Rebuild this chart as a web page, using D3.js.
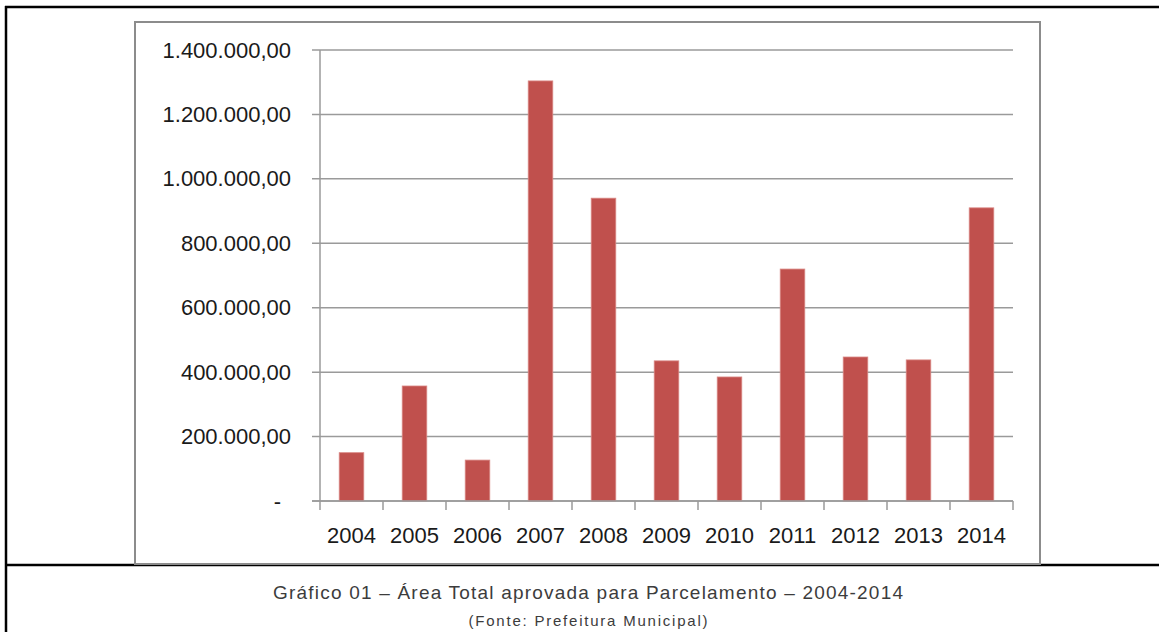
<!DOCTYPE html>
<html>
<head>
<meta charset="utf-8">
<script src="https://cdn.jsdelivr.net/npm/d3@7"></script>
<style>
  body { margin: 0; background: #fff; }
  svg { display: block; }
</style>
</head>
<body>
<script>
// data
let years = ["2004","2005","2006","2007","2008","2009","2010","2011","2012","2013","2014"];
let areas = [150000, 357000, 127000, 1304000, 940000, 435000, 385000, 720000, 447000, 438000, 910000];
let yTicks = [0, 200000, 400000, 600000, 800000, 1000000, 1200000, 1400000];
let caption = "Gráfico 01 – Área Total aprovada para Parcelamento – 2004-2014";
let source = "(Fonte: Prefeitura Municipal)";

let width = 1159, height = 632;

// pt-BR number format: 1.400.000,00
let ptBR = d3.formatLocale({ decimal: ",", thousands: ".", grouping: [3], currency: ["R$", ""] });
let fmt = ptBR.format(",.2f");

let svg = d3.select("body").append("svg")
    .attr("width", width)
    .attr("height", height);

// table lines behind the chart
svg.append("line").attr("x1", 6).attr("x2", 6).attr("y1", 6).attr("y2", height)
    .style("stroke", "#000").style("stroke-width", 2.5);
svg.append("line").attr("x1", 5).attr("x2", width).attr("y1", 7).attr("y2", 7)
    .style("stroke", "#000").style("stroke-width", 2.5);
svg.append("line").attr("x1", 5).attr("x2", width).attr("y1", 565).attr("y2", 565)
    .style("stroke", "#000").style("stroke-width", 2.5);

// chart frame
svg.append("rect")
    .attr("x", 135).attr("y", 22)
    .attr("width", 905).attr("height", 542)
    .style("fill", "#fff")
    .style("stroke", "#8c8c8c")
    .style("stroke-width", 2);

let x = d3.scaleBand()
    .domain(years)
    .range([320, 1013])
    .padding(0);

let y = d3.scaleLinear()
    .domain([0, 1400000])
    .range([501, 50]);

// gridlines
svg.append("g").selectAll("line")
    .data(yTicks)
    .enter()
    .append("line")
    .attr("x1", 312)
    .attr("x2", 1013)
    .attr("y1", d => y(d))
    .attr("y2", d => y(d))
    .style("stroke", "#9a9a9a")
    .style("stroke-width", 1.5);

// y axis labels
let yAxis = svg.append("g")
    .attr("transform", "translate(320,0)")
    .call(d3.axisLeft(y).tickValues(yTicks).tickSize(0).tickPadding(29)
      .tickFormat(d => d === 0 ? "-" : fmt(d)));
yAxis.select(".domain").remove();
yAxis.selectAll("text")
    .style("font-family", "'Liberation Sans', Arial, sans-serif")
    .style("font-size", "22px")
    .style("fill", "#1a1a1a")
    .attr("dx", d => d === 0 ? -10 : 0);

// vertical axis line
svg.append("line")
    .attr("x1", 320).attr("x2", 320)
    .attr("y1", y(1400000)).attr("y2", y(0))
    .style("stroke", "#9a9a9a").style("stroke-width", 1.5);

// category boundary ticks
let bounds = years.map(d => x(d)).concat([x.range()[1]]);
svg.append("g").selectAll("line")
    .data(bounds)
    .enter()
    .append("line")
    .attr("x1", d => d).attr("x2", d => d)
    .attr("y1", y(0)).attr("y2", y(0) + 9)
    .style("stroke", "#9a9a9a").style("stroke-width", 1.5);

// x axis labels
let xAxis = svg.append("g")
    .attr("transform", `translate(0,${y(0)})`)
    .call(d3.axisBottom(x).tickSize(0).tickPadding(0));
xAxis.select(".domain").remove();
xAxis.selectAll("text")
    .attr("y", 34)
    .attr("dy", "0.35em")
    .style("font-family", "'Liberation Sans', Arial, sans-serif")
    .style("font-size", "22px")
    .style("fill", "#1a1a1a");

// bars
let barW = x.bandwidth() * 0.39;
svg.append("g").selectAll("rect")
    .data(years)
    .enter()
    .append("rect")
    .attr("x", (d, i) => x(d) + x.bandwidth() / 2 - barW / 2)
    .attr("y", (d, i) => y(areas[i]))
    .attr("width", barW)
    .attr("height", (d, i) => y(0) - y(areas[i]))
    .style("fill", "#c0504d")
    .style("stroke", "#d98784")
    .style("stroke-width", 0.8);

// redraw baseline over the bars
svg.append("line")
    .attr("x1", 312).attr("x2", 1013)
    .attr("y1", y(0)).attr("y2", y(0))
    .style("stroke", "#9a9a9a").style("stroke-width", 1.5);

// caption, narrow face spread out like the original
svg.append("text")
    .attr("x", 588).attr("y", 592)
    .attr("dy", "0.35em")
    .attr("text-anchor", "middle")
    .attr("textLength", 630)
    .attr("lengthAdjust", "spacing")
    .style("font-family", "'Liberation Sans Narrow', 'Liberation Sans', Arial, sans-serif")
    .style("font-size", "19px")
    .style("fill", "#3c3c3c")
    .text(caption);

svg.append("text")
    .attr("x", 588).attr("y", 621)
    .attr("dy", "0.35em")
    .attr("text-anchor", "middle")
    .attr("textLength", 239)
    .attr("lengthAdjust", "spacing")
    .style("font-family", "'Liberation Sans Narrow', 'Liberation Sans', Arial, sans-serif")
    .style("font-size", "15px")
    .style("fill", "#3c3c3c")
    .text(source);
</script>
</body>
</html>
